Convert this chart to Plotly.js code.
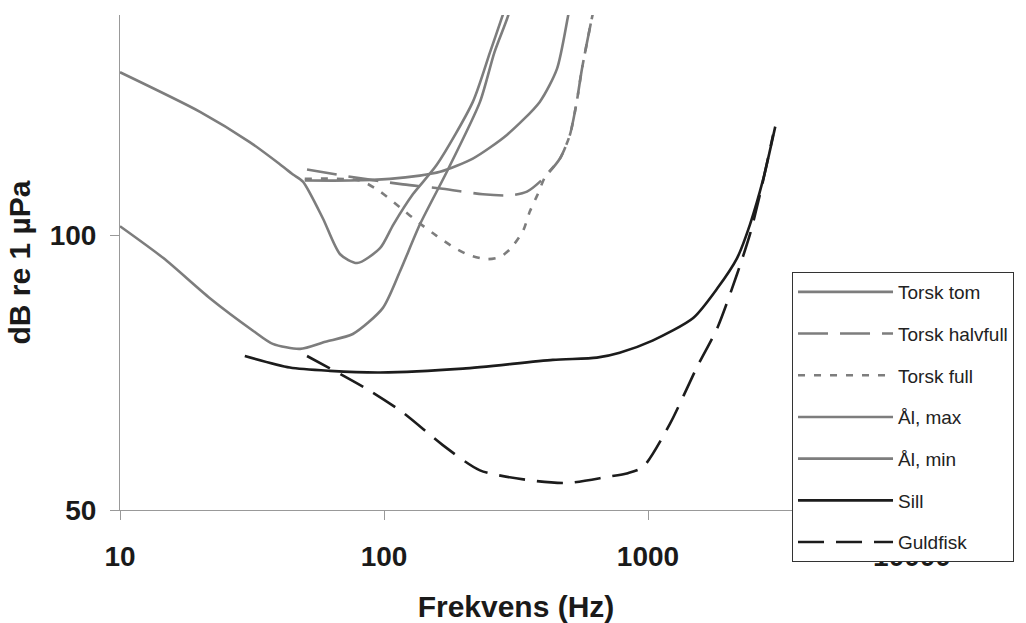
<!DOCTYPE html>
<html>
<head>
<meta charset="utf-8">
<script src="https://cdn.plot.ly/plotly-3.0.1.min.js"></script>
<style>html,body{margin:0;padding:0;background:#fff;}#chart{width:1026px;height:623px;}</style>
</head>
<body>
<div id="chart"></div>
<script>
// Data (frequency in Hz, threshold in dB re 1 µPa)
const seriesNames = ["Torsk tom", "Torsk halvfull", "Torsk full", "Ål, max", "Ål, min", "Sill", "Guldfisk"];

const torskTomX = [50.1, 74.4, 105.3, 136.7, 163, 217, 292, 389, 452, 497, 510];
const torskTomY = [109.9, 109.9, 110.2, 110.8, 111.5, 113.9, 118.2, 124.2, 130.2, 139.6, 142.5];

const torskHalvX = [51.1, 69.9, 118, 167, 237, 300, 348, 400, 464, 506, 537, 562, 614, 630];
const torskHalvY = [111.9, 110.8, 109.2, 108.4, 107.4, 107.2, 107.9, 110.2, 113.9, 118.2, 124.2, 130.2, 139.6, 142];

const torskFullX = [50.1, 81.1, 96.6, 115, 136.7, 158.7, 186, 211, 245, 275, 300, 336, 357, 383, 408, 464, 506, 537, 562, 614, 630];
const torskFullY = [110.2, 109.9, 107.9, 105.0, 102.1, 99.8, 97.6, 96.3, 95.6, 96.0, 97.4, 100.7, 104.3, 107.5, 110.6, 113.9, 118.2, 124.2, 130.2, 139.6, 142];

const alMaxX = [10, 20.1, 31.0, 40, 45.2, 49.3, 58.7, 68.2, 79.1, 96.6, 108.5, 128.6, 158.7, 217, 252, 280, 295];
const alMaxY = [129.6, 122.4, 116.9, 113.0, 111.0, 109.7, 103.0, 96.5, 94.9, 97.6, 101.9, 107.4, 112.8, 124.2, 133.2, 139.6, 143];

const alMinX = [10, 14.6, 21.9, 31.9, 37.9, 48.1, 60, 76.2, 98.9, 115, 136.7, 173, 231, 262, 294, 305];
const alMinY = [101.6, 95.8, 88.5, 82.6, 80.2, 79.3, 80.6, 82.0, 86.7, 93.4, 101.9, 111.5, 124.2, 133.2, 139.6, 142.5];

const sillX = [29.7, 44.0, 62.4, 96.6, 199, 436, 640, 781, 1040, 1483, 1831, 2175, 2433, 2733, 3034];
const sillY = [78.0, 75.9, 75.3, 75.0, 75.7, 77.3, 77.7, 78.6, 80.8, 84.9, 90.3, 95.8, 101.9, 110.2, 119.7];

const guldX = [51.1, 88.2, 118, 167, 231, 357, 494, 697, 839, 957, 1212, 1530, 1831, 2175, 2433, 2656, 2977];
const guldY = [78.0, 71.7, 67.7, 61.8, 57.2, 55.4, 54.9, 56.0, 56.7, 57.8, 65.7, 75.9, 83.1, 92.9, 100.1, 107.4, 118.2];

const xTickVals = [10, 100, 1000, 10000];
const xTickText = ["10", "100", "1000", "10000"];
const yTickVals = [50, 100];
const yTickText = ["50", "100"];

const GRAY = "#7d7d7d";
const BLACK = "#1c1c1c";
const FONT = "Liberation Sans, Arial, sans-serif";

function tr(name, x, y, color, dash, i) {
  return {
    type: "scatter", mode: "lines", name: name, x: x, y: y,
    legendgroup: "g" + i,
    line: {color: color, width: 2.6, dash: dash, shape: "spline", smoothing: 0.7}
  };
}

const data = [
  tr(seriesNames[0], torskTomX, torskTomY, GRAY, "solid", 0),
  tr(seriesNames[1], torskHalvX, torskHalvY, GRAY, "30px,12px", 1),
  tr(seriesNames[2], torskFullX, torskFullY, GRAY, "7px,9px", 2),
  tr(seriesNames[3], alMaxX, alMaxY, GRAY, "solid", 3),
  tr(seriesNames[4], alMinX, alMinY, GRAY, "solid", 4),
  tr(seriesNames[5], sillX, sillY, BLACK, "solid", 5),
  tr(seriesNames[6], guldX, guldY, BLACK, "26px,12px", 6)
];

const layout = {
  width: 1026, height: 623,
  margin: {l: 120, r: 114, t: 15, b: 113},
  paper_bgcolor: "#ffffff", plot_bgcolor: "#ffffff",
  font: {family: FONT, color: "#1a1a1a"},
  showlegend: true,
  legend: {
    x: 0.8485, y: 0.4808, xanchor: "left", yanchor: "top",
    bgcolor: "#ffffff", bordercolor: "#333333", borderwidth: 1,
    font: {size: 19, family: FONT, color: "#222"},
    traceorder: "grouped", tracegroupgap: 14, itemwidth: 95,
    entrywidth: 225, entrywidthmode: "pixels"
  },
  xaxis: {
    type: "log", range: [1, 4],
    tickvals: xTickVals, ticktext: xTickText,
    showgrid: false, zeroline: false,
    showline: true, linecolor: "#999999", linewidth: 1,
    ticks: "outside", ticklen: 9, tickcolor: "#999999",
    ticklabelstandoff: 12,
    tickfont: {size: 28, weight: "bold", family: FONT, color: "#1a1a1a"},
    title: {text: "Frekvens (Hz)", font: {size: 30, weight: "bold", family: FONT, color: "#1a1a1a"}, standoff: 25}
  },
  yaxis: {
    range: [50, 140],
    tickvals: yTickVals, ticktext: yTickText,
    showgrid: false, zeroline: false,
    showline: true, linecolor: "#999999", linewidth: 1,
    ticks: "outside", ticklen: 9, tickcolor: "#999999",
    ticklabelstandoff: 8,
    tickfont: {size: 28, weight: "bold", family: FONT, color: "#1a1a1a"},
    title: {text: "dB re 1 µPa", font: {size: 30, weight: "bold", family: FONT, color: "#1a1a1a"}, standoff: 10}
  }
};

Plotly.newPlot("chart", data, layout, {displayModeBar: false, staticPlot: true});
</script>
</body>
</html>
